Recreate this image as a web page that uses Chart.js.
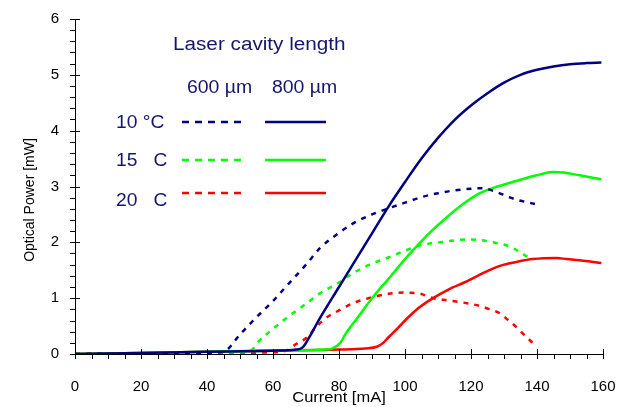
<!DOCTYPE html>
<html>
<head>
<meta charset="utf-8">
<script src="https://cdn.jsdelivr.net/npm/chart.js@4.4.1/dist/chart.umd.min.js"></script>
<style>
  html, body { margin: 0; padding: 0; background: #fff; }
  #wrap { width: 626px; height: 407px; }
</style>
</head>
<body>
<div id="wrap"><canvas id="wykres" width="626" height="407"></canvas></div>
<script>
// [current mA, optical power mW]
var blue600 = [[0,0],[20,0.01],[40,0.02],[45,0.04],[50,0.35],[54,0.6],[60,0.95],[64.3,1.23],[70,1.6],[74.3,1.9],[80,2.17],[84.3,2.34],[90,2.5],[94.6,2.6],[100,2.71],[105,2.81],[110,2.88],[115,2.93],[120,2.96],[123,2.97],[127.8,2.9],[131,2.82],[134.7,2.75],[139.9,2.68]];
var blue800 = [[0,0],[20,0.02],[40,0.04],[60,0.06],[67,0.08],[69,0.12],[71,0.3],[74,0.62],[80,1.2],[85,1.68],[90,2.16],[95,2.64],[100,3.08],[105,3.5],[110,3.87],[115,4.19],[120,4.45],[125,4.67],[130,4.86],[135,5.0],[140,5.09],[145,5.15],[150,5.19],[155,5.21],[159.5,5.22]];
var green600 = [[0,0],[20,0.01],[40,0.02],[50,0.03],[53,0.05],[56,0.25],[60,0.45],[64.4,0.66],[70,0.9],[74.3,1.09],[80,1.28],[84.3,1.45],[90,1.62],[94.6,1.72],[100,1.85],[103.6,1.93],[110.6,2.0],[118.7,2.05],[123,2.04],[126.6,2.0],[130,1.96],[132.6,1.9],[135.5,1.8],[138.7,1.68]];
var green800 = [[0,0],[20,0.02],[40,0.04],[60,0.06],[76,0.08],[78,0.1],[80.4,0.2],[82,0.36],[85.5,0.64],[90.3,1.02],[95.5,1.38],[100,1.7],[104,1.96],[108,2.2],[112.7,2.45],[117,2.66],[122.7,2.88],[127,2.98],[132.6,3.08],[136,3.14],[139.9,3.2],[144.7,3.26],[148,3.25],[152.9,3.2],[159.5,3.13]];
var red600 = [[0,0],[20,0.01],[40,0.02],[60,0.03],[64.4,0.07],[67,0.18],[70.4,0.3],[73,0.48],[76.4,0.66],[80,0.78],[84.3,0.91],[90.3,1.02],[96.4,1.09],[100,1.1],[104.5,1.08],[108.5,1.0],[113,0.96],[118.7,0.91],[122.7,0.86],[125.7,0.8],[128.7,0.73],[131,0.62],[133.8,0.48],[136,0.35],[138.7,0.2],[139.9,0.13]];
var red800 = [[0,0],[20,0.02],[40,0.04],[60,0.06],[80,0.08],[88,0.1],[91.5,0.13],[93.4,0.2],[95,0.3],[97.6,0.45],[100,0.6],[104.5,0.84],[108.5,1.0],[113,1.15],[118.7,1.3],[122,1.4],[126.6,1.53],[130,1.6],[133.8,1.65],[138.7,1.7],[145.9,1.72],[149,1.7],[154,1.67],[159.5,1.63]];

var xTicks = [0, 20, 40, 60, 80, 100, 120, 140, 160];
var yTicks = [0, 1, 2, 3, 4, 5, 6];
var xTitle = 'Current [mA]';
var yTitle = 'Optical Power [mW]';
var legendTitle = 'Laser cavity length';
var legendCols = ['600 \u00b5m', '800 \u00b5m'];
var legendRows = ['10 \u00b0C', '15   C', '20   C'];

var NAVY = '#000080';
var GREEN = '#00ff00';
var RED = '#ff0000';
var TEXT = '#16166e';
var FONT = '"Liberation Sans", Arial, sans-serif';

function pts(arr) {
    return arr.map(function (p) { return { x: p[0], y: p[1] }; });
}

function series(label, arr, color, dashed) {
    return {
        label: label,
        data: pts(arr),
        borderColor: color,
        backgroundColor: color,
        borderWidth: 2.5,
        borderDash: dashed ? [5, 6] : [],
        pointRadius: 0,
        fill: false,
        cubicInterpolationMode: 'monotone'
    };
}

// text stretched a little sideways, like the original
function wideText(ctx, text, x, y, sx) {
    ctx.save();
    ctx.translate(x, y);
    ctx.scale(sx, 1);
    ctx.fillText(text, 0, 0);
    ctx.restore();
}

// minor/major tick marks, axis titles and the hand-laid legend block
var decorPlugin = {
    id: 'decor',
    afterDraw: function (chart) {
        var ctx = chart.ctx;
        var xs = chart.scales.x, ys = chart.scales.y;
        var x0 = xs.getPixelForValue(0), y0 = ys.getPixelForValue(0);
        ctx.save();
        ctx.strokeStyle = '#000';
        ctx.lineWidth = 1;
        ctx.beginPath();
        for (var v = 0; v <= 160; v += 5) {
            var px = Math.round(xs.getPixelForValue(v)) + 0.5;
            var major = v % 20 === 0;
            ctx.moveTo(px, y0 + 5);
            ctx.lineTo(px, major ? y0 - 5 : y0);
        }
        for (var w = 0; w <= 30; w++) {
            var py = Math.round(ys.getPixelForValue(w / 5)) + 0.5;
            var majorY = w % 5 === 0;
            ctx.moveTo(x0 - 5, py);
            ctx.lineTo(majorY ? x0 + 5 : x0, py);
        }
        ctx.stroke();

        // axis titles
        ctx.fillStyle = '#000';
        ctx.textBaseline = 'middle';
        ctx.textAlign = 'center';
        ctx.font = '15px ' + FONT;
        wideText(ctx, xTitle, (xs.left + xs.right) / 2, 398, 1.1);
        ctx.save();
        ctx.translate(30, 200);
        ctx.rotate(-Math.PI / 2);
        ctx.font = '14px ' + FONT;
        ctx.fillText(yTitle, 0, 0);
        ctx.restore();

        // legend
        ctx.fillStyle = TEXT;
        ctx.textAlign = 'left';
        ctx.font = '18px ' + FONT;
        wideText(ctx, legendTitle, 173, 45, 1.15);
        wideText(ctx, legendCols[0], 187, 88, 1.08);
        wideText(ctx, legendCols[1], 272, 88, 1.08);
        var rowsY = [123, 161, 201];
        var lineY = [122, 160, 193];
        var colors = [NAVY, GREEN, RED];
        for (var i = 0; i < legendRows.length; i++) {
            ctx.fillStyle = TEXT;
            wideText(ctx, legendRows[i], 116, rowsY[i], 1.07);
            ctx.strokeStyle = colors[i];
            ctx.lineWidth = 2.5;
            ctx.setLineDash([7, 6]);
            ctx.beginPath();
            ctx.moveTo(182, lineY[i]);
            ctx.lineTo(245, lineY[i]);
            ctx.stroke();
            ctx.setLineDash([]);
            ctx.beginPath();
            ctx.moveTo(265, lineY[i]);
            ctx.lineTo(326, lineY[i]);
            ctx.stroke();
        }
        ctx.restore();
    }
};

var ctx = document.getElementById('wykres').getContext('2d');
var myChart = new Chart(ctx, {
    type: 'line',
    data: {
        datasets: [
            series('10 C 600', blue600, NAVY, true),
            series('10 C 800', blue800, NAVY, false),
            series('15 C 600', green600, GREEN, true),
            series('15 C 800', green800, GREEN, false),
            series('20 C 600', red600, RED, true),
            series('20 C 800', red800, RED, false)
        ]
    },
    options: {
        responsive: false,
        animation: false,
        layout: { padding: { top: 19, right: 23, left: 0, bottom: 0 } },
        plugins: {
            legend: { display: false },
            tooltip: { enabled: false }
        },
        scales: {
            x: {
                type: 'linear',
                min: 0,
                max: 160,
                afterBuildTicks: function (scale) {
                    scale.ticks = xTicks.map(function (v) { return { value: v }; });
                },
                afterFit: function (scale) {
                    scale.height = 53;
                    scale.paddingLeft = 0;
                    scale.paddingRight = 0;
                },
                grid: { display: false },
                border: { display: true, color: '#000', width: 1 },
                ticks: { color: '#000', padding: 16, font: { family: FONT, size: 15 } }
            },
            y: {
                type: 'linear',
                min: 0,
                max: 6,
                afterBuildTicks: function (scale) {
                    scale.ticks = yTicks.map(function (v) { return { value: v }; });
                },
                afterFit: function (scale) { scale.width = 75; },
                grid: { display: false },
                border: { display: true, color: '#000', width: 1 },
                ticks: { color: '#000', padding: 8, font: { family: FONT, size: 15 } }
            }
        }
    },
    plugins: [decorPlugin]
});
</script>
</body>
</html>
